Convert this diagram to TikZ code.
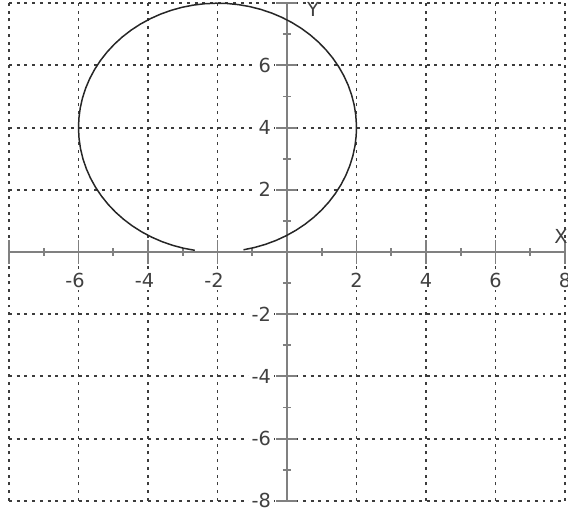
\documentclass[tikz,border=0pt]{standalone}
\usepackage{fontspec}
\setmainfont{DejaVu Sans}
\definecolor{axisgray}{HTML}{808080}
\definecolor{gridgray}{HTML}{3C3C3C}
\definecolor{labelgray}{HTML}{404040}
\begin{document}
\begin{tikzpicture}[x=0.695cm,y=0.622cm,
  gridline/.style={gridgray,line width=1.1pt,dash pattern=on 1.7pt off 2.7pt},
  axisline/.style={axisgray,line width=1.6pt},
  majortick/.style={axisgray,line width=1.1pt},
  minortick/.style={axisgray,line width=1.1pt},
  curveline/.style={black!85,line width=0.85pt},
  ticklabel/.style={labelgray,font=\fontsize{11}{13}\selectfont,inner sep=1.5pt,fill=white}]
\useasboundingbox (-5.74cm,-5.18cm) rectangle (5.62cm,5.04cm);
% grid
\foreach \v in {-8,-6,...,8} {
  \draw[gridline] (\v,-8) -- (\v,8);
  \draw[gridline] (-8,\v) -- (8,\v);
}
% axes
\coordinate (xl) at (-8,0);
\coordinate (xr) at (8,0);
\coordinate (yb) at (0,-8);
\coordinate (yt) at (0,8);
\draw[axisline] (xl) -- (xr);
\draw[axisline] (yb) -- (yt);
\foreach \v in {-8,-6,...,8} {
  \draw[majortick] ([yshift=-0.24cm]\v,0) -- ([yshift=0.24cm]\v,0);
  \draw[majortick] ([xshift=-0.21cm]0,\v) -- ([xshift=0.21cm]0,\v);
}
\foreach \v in {-7,-5,...,7} {
  \draw[minortick] ([yshift=-0.08cm]\v,0) -- ([yshift=0.08cm]\v,0);
  \draw[minortick] ([xshift=-0.08cm]0,\v) -- ([xshift=0.08cm]0,\v);
}
% curve
\draw[curveline] plot[domain=280.8:620.6,samples=73] ({-2+4*cos(\x)},{4+4*sin(\x)});
% labels
\foreach \v in {-6,-4,-2} {
  \node[ticklabel] (xlab\v) at ([xshift=-0.07cm,yshift=-0.56cm]\v,0) {-\the\numexpr-\v\relax};
}
\foreach \v in {2,4,6,8} {
  \node[ticklabel] (xlab\v) at ([yshift=-0.56cm]\v,0) {\v};
}
\foreach \v in {2,4,6} {
  \node[ticklabel,anchor=east] (ylab\v) at ([xshift=-0.26cm]0,\v) {\v};
}
\foreach \v in {-2,-4,-6,-8} {
  \node[ticklabel,anchor=east] (ylab\v) at ([xshift=-0.26cm]0,\v) {-\the\numexpr-\v\relax};
}
\node[ticklabel,fill=none] (ylabel) at (0.52cm,4.86cm) {Y};
\node[ticklabel,fill=none] (xlabel) at (5.48cm,0.32cm) {X};
\end{tikzpicture}
\end{document}
